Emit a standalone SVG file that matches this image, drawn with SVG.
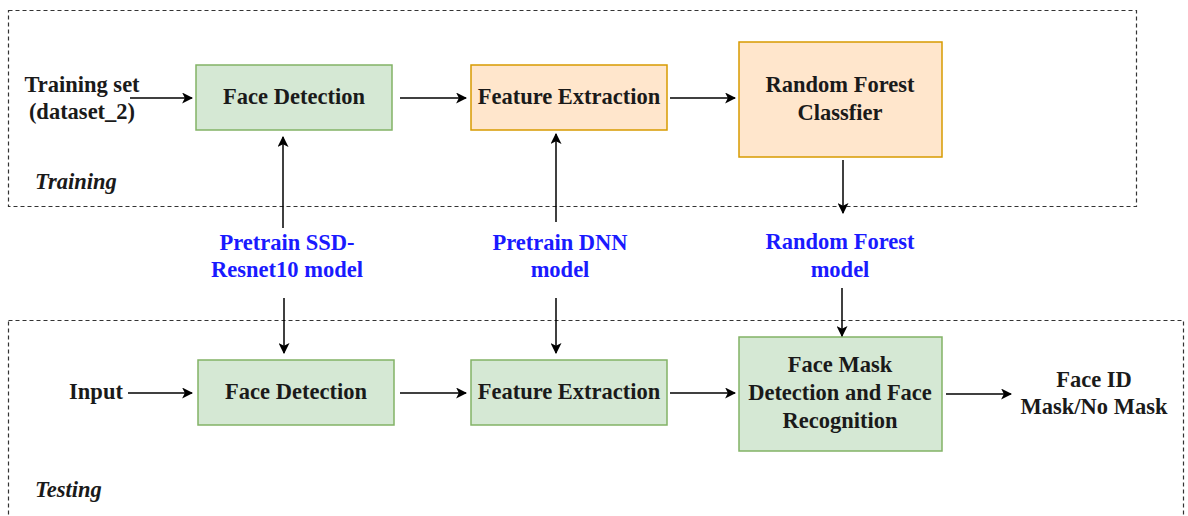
<svg xmlns="http://www.w3.org/2000/svg" width="1188" height="516" viewBox="0 0 1188 516">
<style>
text{font-family:"Liberation Serif","Times New Roman",serif;font-weight:bold;font-size:22.5px;fill:#1a1a1a}
.c{text-anchor:middle}
.b{fill:#1a1aff}
.i{font-style:italic}
.grp{fill:none;stroke:#333;stroke-width:1.2;stroke-dasharray:4 3}
.g{fill:#d5e8d4;stroke:#82b366;stroke-width:1.5}
.o{fill:#ffe6cc;stroke:#d79b00;stroke-width:1.5}
.e{stroke:#000;stroke-width:1.5;fill:none;marker-end:url(#ah)}
</style>
<defs>
<marker id="ah" viewBox="0 0 10 10" refX="9" refY="5" markerWidth="11" markerHeight="11" markerUnits="userSpaceOnUse" orient="auto">
<path d="M0,0 L10,5 L0,10 L2.5,5 Z" fill="#000"/>
</marker>
</defs>
<rect width="1188" height="516" fill="#fff"/>
<g id="training-group">
<rect class="grp" x="8.5" y="10.5" width="1128" height="196"/>
<text class="i" x="35" y="189">Training</text>
</g>
<g id="testing-group">
<rect class="grp" x="8.5" y="320.5" width="1175" height="210"/>
<text class="i" x="35" y="497">Testing</text>
</g>
<g id="training-set">
<text class="c" x="82" y="92">Training set</text>
<text class="c" x="82" y="119">(dataset_2)</text>
</g>
<g id="fd-train">
<rect class="g" x="196" y="65" width="196" height="65"/>
<text class="c" x="294" y="104">Face Detection</text>
</g>
<g id="fe-train">
<rect class="o" x="471" y="65" width="196" height="65"/>
<text class="c" x="569" y="104">Feature Extraction</text>
</g>
<g id="rf-train">
<rect class="o" x="739" y="42" width="203" height="115"/>
<text class="c" x="840" y="92">Random Forest</text>
<text class="c" x="840" y="120">Classfier</text>
</g>
<g id="ssd-model">
<text class="c b" x="287" y="250">Pretrain SSD-</text>
<text class="c b" x="287" y="277">Resnet10 model</text>
</g>
<g id="dnn-model">
<text class="c b" x="560" y="250">Pretrain DNN</text>
<text class="c b" x="560" y="277">model</text>
</g>
<g id="rf-model">
<text class="c b" x="840" y="249">Random Forest</text>
<text class="c b" x="840" y="277">model</text>
</g>
<g id="input">
<text class="c" x="96" y="399">Input</text>
</g>
<g id="fd-test">
<rect class="g" x="198" y="360" width="196" height="65"/>
<text class="c" x="296" y="399">Face Detection</text>
</g>
<g id="fe-test">
<rect class="g" x="471" y="360" width="196" height="65"/>
<text class="c" x="569" y="399">Feature Extraction</text>
</g>
<g id="fm-test">
<rect class="g" x="739" y="337" width="203" height="114"/>
<text class="c" x="840" y="372">Face Mask</text>
<text class="c" x="840" y="400">Detection and Face</text>
<text class="c" x="840" y="428">Recognition</text>
</g>
<g id="output">
<text class="c" x="1094" y="387">Face ID</text>
<text class="c" x="1094" y="414">Mask/No Mask</text>
</g>
<g id="connectors">
<path class="e" d="M130,98 H192"/>
<path class="e" d="M400,98 H466"/>
<path class="e" d="M670,98 H735"/>
<path class="e" d="M843,160 V213"/>
<path class="e" d="M283,228 V137"/>
<path class="e" d="M556,222 V134"/>
<path class="e" d="M284,298 V353"/>
<path class="e" d="M556,298 V353"/>
<path class="e" d="M842,288 V336"/>
<path class="e" d="M128,393 H192"/>
<path class="e" d="M400,393 H466"/>
<path class="e" d="M670,393 H735"/>
<path class="e" d="M946,394 H1011"/>
</g>
</svg>
